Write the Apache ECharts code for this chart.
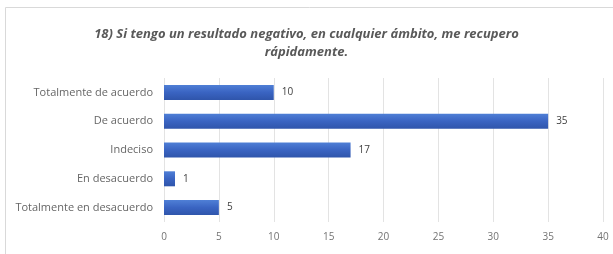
<!DOCTYPE html>
<html>
<head>
<meta charset="utf-8">
<script src="https://cdn.jsdelivr.net/npm/echarts@6/dist/echarts.min.js"></script>
<style>
  html, body { margin: 0; padding: 0; background: #fff; }
  #chart { width: 613px; height: 254px; }
</style>
</head>
<body>
<div id="chart"></div>
<script>
// categories from bottom to top (ECharts draws category axis upward)
const categories = ['Totalmente en desacuerdo', 'En desacuerdo', 'Indeciso', 'De acuerdo', 'Totalmente de acuerdo']
const values = [5, 1, 17, 35, 10]
const titleText = '18) Si tengo un resultado negativo, en cualquier ámbito, me recupero\nrápidamente.'

const chart = echarts.init(document.getElementById('chart'))
chart.setOption({
  animation: false,
  title: {
    text: titleText,
    left: 'center',
    top: 20,
    textStyle: {
      fontFamily: 'Open Sans',
      fontStyle: 'italic',
      fontWeight: 'bold',
      fontSize: 13,
      color: '#595959',
      lineHeight: 18
    }
  },
  grid: {
    left: 164,
    right: 10,
    top: 78,
    bottom: 32
  },
  xAxis: {
    type: 'value',
    min: 0,
    max: 40,
    interval: 5,
    axisLine: { show: false },
    axisTick: { show: false },
    splitLine: { lineStyle: { color: '#e3e3e3' } },
    axisLabel: { color: '#737373', fontSize: 10, fontFamily: 'Open Sans', margin: 10 }
  },
  yAxis: {
    type: 'category',
    data: categories,
    axisLine: { show: false },
    axisTick: { show: false },
    axisLabel: { color: '#666666', fontSize: 11, fontFamily: 'Open Sans', margin: 11 }
  },
  series: [
    {
      type: 'bar',
      data: values,
      barWidth: 15,
      itemStyle: {
        color: new echarts.graphic.LinearGradient(0, 0, 0, 1, [
          { offset: 0, color: '#4f7fd6' },
          { offset: 0.5, color: '#3a64c2' },
          { offset: 1, color: '#2f55ab' }
        ])
      },
      label: {
        show: true,
        position: 'right',
        distance: 8,
        color: '#404040',
        fontSize: 10,
        fontFamily: 'Open Sans'
      }
    }
  ],
  graphic: [
    {
      type: 'rect',
      shape: { x: 5.5, y: 7.5, width: 620, height: 260 },
      style: { fill: 'none', stroke: '#d9d9d9', lineWidth: 1 }
    }
  ]
})
</script>
</body>
</html>
